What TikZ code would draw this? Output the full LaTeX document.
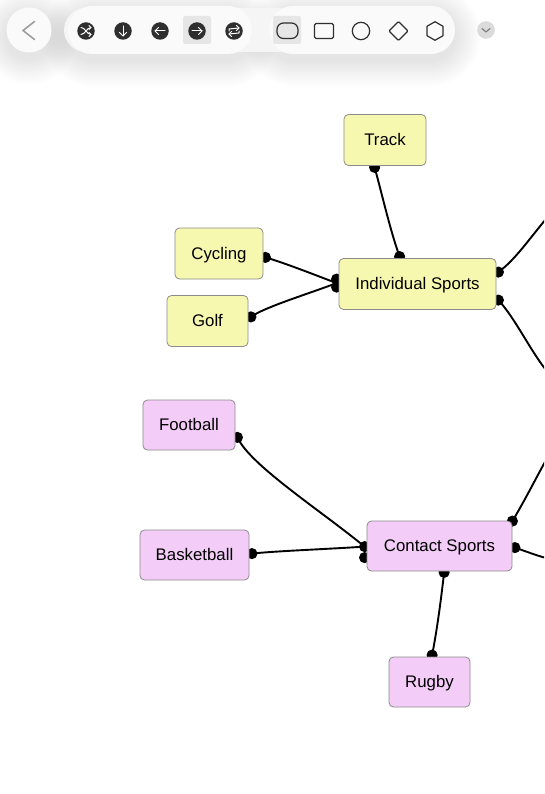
\documentclass[tikz,border=0pt]{standalone}
\usepackage{fontspec}
\setmainfont{Liberation Sans}
\usetikzlibrary{calc,backgrounds,fadings}
\definecolor{yel}{HTML}{F7F8B0}
\definecolor{pnk}{HTML}{F4CCF8}
\definecolor{bordr}{HTML}{8C8C8C}
\definecolor{pill}{HTML}{FAFAFA}
\definecolor{barc}{HTML}{F5F5F5}
\definecolor{icn}{HTML}{2F2F2F}
\definecolor{sel}{HTML}{E6E6E6}
\tikzset{
  sportbox/.style={draw=bordr,line width=0.8pt,rounded corners=4.5pt,inner sep=0pt,text height=13.6pt,text depth=2.4pt,font=\fontsize{16.8}{19}\selectfont,text=black},
  yelbox/.style={sportbox,fill=yel},
  pnkbox/.style={sportbox,fill=pnk},
  edgeline/.style={draw=black,line width=1.9pt,line cap=round},
  dotmark/.style={fill=black,draw=none},
  pillshape/.style={fill=pill,draw=none,rounded corners=24pt},
  roundicon/.style={circle,fill=icn,draw=none,minimum size=17.5pt,inner sep=0pt},
  glyph/.style={draw=white,line width=1pt,line cap=round,line join=round},
  shapeicon/.style={draw=icn,line width=1.2pt,line join=round,fill=none},
}
\newcommand{\softshadow}[5]{% x1 y1 x2 y2 radius
  \foreach \g in {26,24,...,2}{
    \fill[black,opacity=0.006,rounded corners=#5+\g*1pt] (#1-\g,#2-\g+6) rectangle (#3+\g,#4+\g+6);
  }
}
\begin{document}
\begin{tikzpicture}[x=1pt,y=-1pt]
\useasboundingbox (0,0) rectangle (544,794);

% nodes
\node[yelbox,minimum width=82pt,minimum height=51pt] (track) at (385,140) {Track};
\node[yelbox,minimum width=88pt,minimum height=51pt] (cycling) at (219,253.5) {Cycling};
\node[yelbox,minimum width=81pt,minimum height=51pt] (golf) at (207.5,321) {Golf};
\node[yelbox,minimum width=157pt,minimum height=51pt] (indiv) at (417.5,284) {Individual Sports};
\node[pnkbox,minimum width=92pt,minimum height=50pt] (football) at (189,425) {Football};
\node[pnkbox,minimum width=109pt,minimum height=50pt] (basket) at (194.5,555) {Basketball};
\node[pnkbox,minimum width=145pt,minimum height=50pt] (contact) at (439.5,546) {Contact Sports};
\node[pnkbox,minimum width=81pt,minimum height=50pt] (rugby) at (429.5,682) {Rugby};

% connector ends
\coordinate (trackS) at ($(track.south west)+(31,1.5)$);
\coordinate (indivT) at ($(indiv.north west)+(61,-1.5)$);
\coordinate (cycE) at ($(cycling.south east)+(2,-22)$);
\coordinate (indivW) at ($(indiv.north west)+(-2,25)$);
\coordinate (indivWa) at ($(indiv.north west)+(-2,21)$);
\coordinate (indivWb) at ($(indiv.north west)+(-2,29)$);
\coordinate (golfE) at ($(golf.south east)+(2.5,-30)$);
\coordinate (indivEa) at ($(indiv.north east)+(2,14)$);
\coordinate (indivEb) at ($(indiv.north east)+(2,42)$);
\coordinate (outA) at (546,219);
\coordinate (outB) at (546,370);
\coordinate (footE) at ($(football.south east)+(2,-13)$);
\coordinate (contW) at ($(contact.north west)+(-2,26)$);
\coordinate (contWb) at ($(contact.north west)+(-2,37)$);
\coordinate (baskE) at ($(basket.north east)+(2.5,24)$);
\coordinate (contNE) at ($(contact.north east)+(0,0.5)$);
\coordinate (contE) at ($(contact.north east)+(2.5,27)$);
\coordinate (outC) at (546,460);
\coordinate (outD) at (546,558);
\coordinate (contS) at ($(contact.south west)+(77.5,1)$);
\coordinate (rugbyN) at ($(rugby.north west)+(43.5,-1.5)$);

\begin{scope}[on background layer]
  \fill[white] (0,0) rectangle (544,794);
  \clip (0,0) rectangle (544,794);
  \draw[edgeline] (trackS) .. controls (381,190) and (390,230) .. (indivT);
  \draw[edgeline] (cycE) .. controls (285,263) and (315,275) .. (indivW);
  \draw[edgeline] (golfE) .. controls (265,307) and (305,295) .. (indivW);
  \draw[edgeline] (indivEa) .. controls (515,260) and (530,238) .. (outA);
  \draw[edgeline] (indivEb) .. controls (515,318) and (530,350) .. (outB);
  \draw[edgeline] (footE) .. controls (250,465) and (320,510) .. (contW);
  \draw[edgeline] (baskE) .. controls (275,551) and (330,549) .. (contW);
  \draw[edgeline] (contNE) .. controls (525,500) and (535,480) .. (outC);
  \draw[edgeline] (contE) .. controls (525,551) and (535,555) .. (outD);
  \draw[edgeline] (contS) .. controls (441,600) and (437,630) .. (rugbyN);
  \foreach \p in {trackS,indivT,cycE,indivWa,indivWb,golfE,indivEa,indivEb,footE,contW,contWb,baskE,contNE,contE,contS,rugbyN}
    \fill[dotmark] (\p) circle (5.6pt);
\end{scope}

% toolbar shadows
\softshadow{6}{8}{52}{52}{22pt}
\softshadow{68}{6}{252}{54}{24pt}
\softshadow{269}{6}{455}{54}{24pt}
\fill[barc,rounded corners=22pt] (64,8) rectangle (300,52);
% back button
\fill[pill] (29,30) circle (22.5pt);
\draw[draw=black!38,line width=1.6pt,line cap=round,line join=round] (34.5,21.5) -- (23,30.5) -- (34.5,39.5);
% pills
\fill[pillshape] (68,6) rectangle (252,54);
\fill[pillshape] (269,6) rectangle (455,54);
\fill[sel,rounded corners=2pt] (183,16) rectangle (211,44);
\fill[sel,rounded corners=2pt] (273,16) rectangle (301,44);

% left icons
\node[roundicon] (ico1) at (86,31) {};
\node[roundicon] (ico2) at (123,31) {};
\node[roundicon] (ico3) at (160,31) {};
\node[roundicon] (ico4) at (197,31) {};
\node[roundicon] (ico5) at (234,31) {};
% shuffle
\draw[glyph] (81,27.5) .. controls (85,27.5) and (87,34.5) .. (91,34.5);
\draw[glyph] (81,34.5) .. controls (85,34.5) and (87,27.5) .. (91,27.5);
\draw[glyph] (89,25.5) -- (91,27.5) -- (89,29.5);
\draw[glyph] (89,32.5) -- (91,34.5) -- (89,36.5);
% down
\draw[glyph] (123,26) -- (123,36);
\draw[glyph] (119.5,32.5) -- (123,36) -- (126.5,32.5);
% left
\draw[glyph] (165,31) -- (155,31);
\draw[glyph] (158.5,27.5) -- (155,31) -- (158.5,34.5);
% right
\draw[glyph] (192,31) -- (202,31);
\draw[glyph] (198.5,27.5) -- (202,31) -- (198.5,34.5);
% repeat
\draw[glyph] (229,31) -- (229,29) -- (239,28);
\draw[glyph] (236.5,25.5) -- (239,28) -- (236.5,30.5);
\draw[glyph] (239,31) -- (239,33) -- (229,34);
\draw[glyph] (231.5,31.5) -- (229,34) -- (231.5,36.5);

% shape icons
\draw[shapeicon,rounded corners=6.5pt] (277,23) rectangle (298,38.5);
\draw[shapeicon,rounded corners=1.5pt] (314.5,23.5) rectangle (333.5,38.5);
\draw[shapeicon] (361,31) circle (8.7pt);
\draw[shapeicon,rounded corners=1pt] (398.5,21.5) -- (408,31) -- (398.5,40.5) -- (389,31) -- cycle;
\draw[shapeicon] (435,21.7) -- (443,26.3) -- (443,35.7) -- (435,40.3) -- (427,35.7) -- (427,26.3) -- cycle;
% more
\fill[black!14] (486,30) circle (8.8pt);
\draw[draw=black!50,line width=1.2pt,line cap=round,line join=round] (482,28.5) -- (486,32) -- (490,28.5);
\end{tikzpicture}
\end{document}
